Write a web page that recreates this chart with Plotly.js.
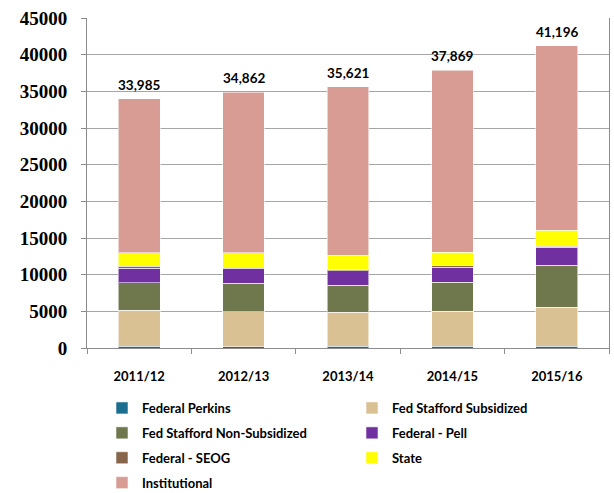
<!DOCTYPE html>
<html>
<head>
<meta charset="utf-8">
<script src="https://cdn.plot.ly/plotly-3.0.1.min.js"></script>
<style>html,body{margin:0;padding:0;background:#fff;}#chart{width:614px;height:493px;}</style>
</head>
<body>
<div id="chart"></div>
<script>
const years = ["2011/12", "2012/13", "2013/14", "2014/15", "2015/16"];
const federalPerkins = [250, 200, 220, 230, 220];
const fedStaffordSub = [4880, 4750, 4680, 4760, 5370];
const fedStaffordNonSub = [3780, 3860, 3690, 3950, 5670];
const federalPell = [1950, 2050, 1945, 2045, 2455];
const federalSEOG = [270, 140, 140, 235, 185];
const stateAid = [1830, 2000, 1945, 1810, 2130];
const institutional = [21025, 21862, 23001, 24839, 25166];

const seriesNames = ["Federal Perkins", "Fed Stafford Subsidized", "Fed Stafford Non-Subsidized", "Federal - Pell", "Federal - SEOG", "State", "Institutional"];
const seriesValues = [federalPerkins, fedStaffordSub, fedStaffordNonSub, federalPell, federalSEOG, stateAid, institutional];
const seriesColors = ["#1a6f8f", "#d9c194", "#6f774d", "#7030a0", "#86654a", "#ffff00", "#d99c94"];
const seriesLegend = ["legend", "legend2", "legend", "legend2", "legend", "legend2", "legend"];

const traces = seriesNames.map((n, i) => ({
  type: "bar",
  name: n,
  x: years,
  y: seriesValues[i],
  marker: {color: seriesColors[i], line: {color: "rgba(255,255,255,0.55)", width: 1}},
  legend: seriesLegend[i],
  legendgroup: "g" + i,
  hoverinfo: "skip"
}));

const totals = years.map((_, j) => seriesValues.reduce((s, arr) => s + arr[j], 0));

const annotations = years.map((yr, j) => ({
  x: yr, y: totals[j], xref: "x", yref: "y",
  text: totals[j].toLocaleString("en-US"),
  showarrow: false, yanchor: "bottom", yshift: 4,
  font: {family: "Lato, 'Open Sans', sans-serif", size: 13.5, color: "#000", weight: "bold"}
}));

const legendFont = {family: "Lato, 'Open Sans', sans-serif", size: 13, color: "#000", weight: "bold"};

const layout = {
  width: 614, height: 493,
  margin: {l: 87, r: 5, t: 18, b: 145, autoexpand: false},
  paper_bgcolor: "#fff", plot_bgcolor: "#fff",
  barmode: "stack",
  bargap: 0.6,
  showlegend: true,
  xaxis: {
    type: "category",
    showline: true, linecolor: "#8c8c8c", linewidth: 1,
    ticks: "outside", tickson: "boundaries", ticklen: 5, tickcolor: "#8c8c8c",
    ticklabelstandoff: 16,
    tickfont: {family: "Lato, 'Open Sans', sans-serif", size: 13, color: "#000", weight: "bold"},
    showgrid: false, fixedrange: true, automargin: false
  },
  yaxis: {
    range: [0, 45000], dtick: 5000, tick0: 0, tickformat: "d",
    showgrid: true, gridcolor: "#a6a6a6", gridwidth: 1,
    showline: true, linecolor: "#8c8c8c", linewidth: 1, mirror: true,
    ticks: "outside", ticklen: 5, tickcolor: "#8c8c8c",
    ticklabelstandoff: 10,
    zeroline: false,
    tickfont: {family: "'Liberation Serif', 'DejaVu Serif', serif", size: 19, color: "#000", weight: "bold"},
    fixedrange: true, automargin: false
  },
  legend: {
    orientation: "v", traceorder: "grouped", tracegroupgap: 5,
    x: 102 / 614, xref: "container", xanchor: "left",
    y: (493 - 393) / 493, yref: "container", yanchor: "top",
    font: legendFont, bgcolor: "rgba(0,0,0,0)", itemclick: false
  },
  legend2: {
    orientation: "v", traceorder: "grouped", tracegroupgap: 5,
    x: 352 / 614, xref: "container", xanchor: "left",
    y: (493 - 393) / 493, yref: "container", yanchor: "top",
    font: legendFont, bgcolor: "rgba(0,0,0,0)", itemclick: false
  },
  annotations: annotations
};

Plotly.newPlot("chart", traces, layout, {displayModeBar: false, staticPlot: true});
</script>
</body>
</html>
